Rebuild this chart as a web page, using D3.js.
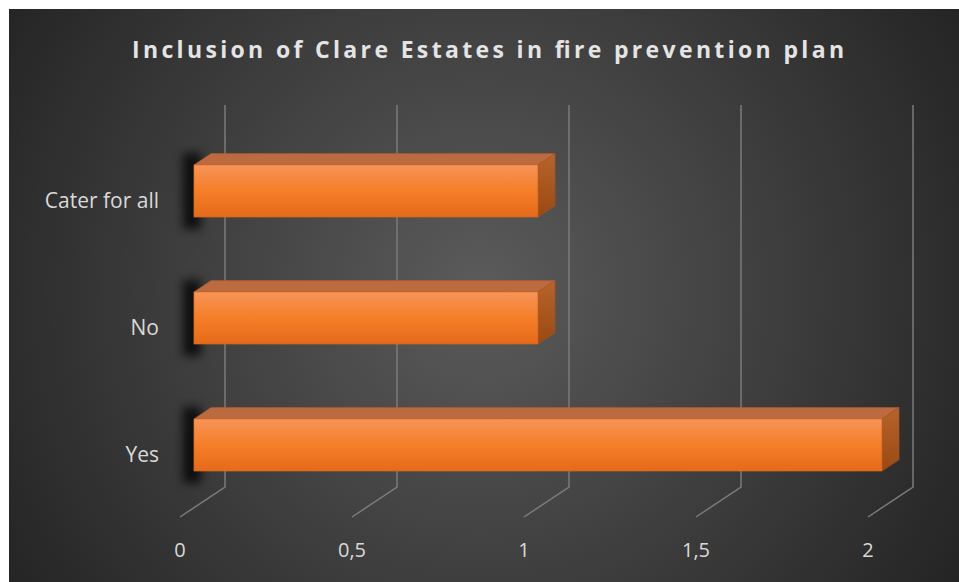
<!DOCTYPE html>
<html>
<head>
<meta charset="utf-8">
<script src="https://cdn.jsdelivr.net/npm/d3@7"></script>
<style>
  body { margin: 0; background: #fff; }
  text { font-family: "Open Sans", Lato, sans-serif; }
</style>
</head>
<body>
<svg width="959" height="582"></svg>
<script>
var title = "Inclusion of Clare Estates in fire prevention plan";
var categories = ["Cater for all", "No", "Yes"];
var values = [1, 1, 2];
var ticks = [0, 0.5, 1, 1.5, 2];
var tickLabels = ["0", "0,5", "1", "1,5", "2"];

var svg = d3.select("svg");
var defs = svg.append("defs");

// background radial gradient
var bg = defs.append("radialGradient")
   .attr("id", "bg")
   .attr("gradientUnits", "userSpaceOnUse")
   .attr("cx", 480).attr("cy", 290).attr("r", 560);
bg.append("stop").attr("offset", "0%").attr("stop-color", "#5b5b5b");
bg.append("stop").attr("offset", "100%").attr("stop-color", "#242424");

var front = defs.append("linearGradient")
   .attr("id", "front").attr("x1", 0).attr("y1", 0).attr("x2", 0).attr("y2", 1);
front.append("stop").attr("offset", "0%").attr("stop-color", "#f79459");
front.append("stop").attr("offset", "50%").attr("stop-color", "#f57e28");
front.append("stop").attr("offset", "100%").attr("stop-color", "#e56a1a");

var side = defs.append("linearGradient")
   .attr("id", "side").attr("x1", 0).attr("y1", 0).attr("x2", 0).attr("y2", 1);
side.append("stop").attr("offset", "0%").attr("stop-color", "#b8642c");
side.append("stop").attr("offset", "100%").attr("stop-color", "#9a4912");

var blur = defs.append("filter").attr("id", "blur")
   .attr("x", "-100%").attr("y", "-50%").attr("width", "300%").attr("height", "200%");
blur.append("feGaussianBlur").attr("stdDeviation", 5);

svg.append("rect")
   .attr("x", 9).attr("y", 9)
   .attr("width", 950).attr("height", 573)
   .attr("fill", "url(#bg)");

svg.append("text")
   .attr("x", 488).attr("y", 58)
   .attr("text-anchor", "middle")
   .attr("textLength", 712)
   .attr("lengthAdjust", "spacing")
   .style("font-size", "23px")
   .style("font-weight", "bold")
   .style("fill", "#e4e4e4")
   .text(title);

// 3d geometry: depth offset of the floor, bar sits in the middle of the depth
var floorY = 517, topY = 105;
var depthX = 45, depthY = -30;
var d0 = 0.31, d1 = 0.69;

var x = d3.scaleLinear().domain([0, 2]).range([180, 868]);

var y = d3.scaleBand()
   .domain(categories)
   .range([127.5, 508.5])
   .paddingInner(0.59)
   .paddingOuter(0.295);

// gridlines
svg.append("g")
   .selectAll("path")
   .data(ticks)
   .enter().append("path")
   .attr("d", function(t) {
      return "M" + x(t) + "," + floorY +
         "L" + (x(t) + depthX) + "," + (floorY + depthY) +
         "L" + (x(t) + depthX) + "," + topY;
   })
   .style("fill", "none")
   .style("stroke", "#7b7b7b")
   .style("stroke-width", 1.5);

// tick labels
svg.append("g")
   .selectAll("text")
   .data(ticks)
   .enter().append("text")
   .attr("x", function(t) { return x(t); })
   .attr("y", 557)
   .attr("text-anchor", "middle")
   .style("font-size", "20px")
   .style("fill", "#d9d9d9")
   .text(function(t, i) { return tickLabels[i]; });

// category labels
svg.append("g")
   .selectAll("text")
   .data(categories)
   .enter().append("text")
   .attr("x", 159)
   .attr("y", function(c) { return y(c) + y.bandwidth() / 2 - depthY * d0 + 8; })
   .attr("text-anchor", "end")
   .style("font-size", "21px")
   .style("fill", "#d9d9d9")
   .text(function(c) { return c; });

var ox = depthX * d0, ddx = depthX * (d1 - d0), ddy = depthY * (d1 - d0);

var bars = svg.append("g")
   .selectAll("g")
   .data(categories)
   .enter().append("g");

// soft shadow left of bars
bars.append("rect")
   .attr("x", x(0) + ox - 11)
   .attr("y", function(c) { return y(c) - 12; })
   .attr("width", 18)
   .attr("height", y.bandwidth() + 24)
   .attr("fill", "#000")
   .attr("opacity", 0.75)
   .attr("filter", "url(#blur)");

bars.append("path")
   .attr("d", function(c, i) {
      var X0 = x(0) + ox, X1 = x(values[i]) + ox, Y0 = y(c);
      return "M" + X0 + "," + Y0 + "L" + (X0 + ddx) + "," + (Y0 + ddy) +
         "L" + (X1 + ddx) + "," + (Y0 + ddy) + "L" + X1 + "," + Y0 + "Z";
   })
   .attr("fill", "#bc6a3f")
   .attr("stroke", "#b05c2c")
   .attr("stroke-width", 0.6);

bars.append("path")
   .attr("d", function(c, i) {
      var X1 = x(values[i]) + ox, Y0 = y(c), Y1 = y(c) + y.bandwidth();
      return "M" + X1 + "," + Y0 + "L" + (X1 + ddx) + "," + (Y0 + ddy) +
         "L" + (X1 + ddx) + "," + (Y1 + ddy) + "L" + X1 + "," + Y1 + "Z";
   })
   .attr("fill", "url(#side)")
   .attr("stroke", "#a4541c")
   .attr("stroke-width", 0.6);

bars.append("rect")
   .attr("x", x(0) + ox)
   .attr("y", function(c) { return y(c); })
   .attr("width", function(c, i) { return x(values[i]) - x(0); })
   .attr("height", y.bandwidth())
   .attr("fill", "url(#front)")
   .attr("stroke", "#d2661f")
   .attr("stroke-width", 0.6);
</script>
</body>
</html>
